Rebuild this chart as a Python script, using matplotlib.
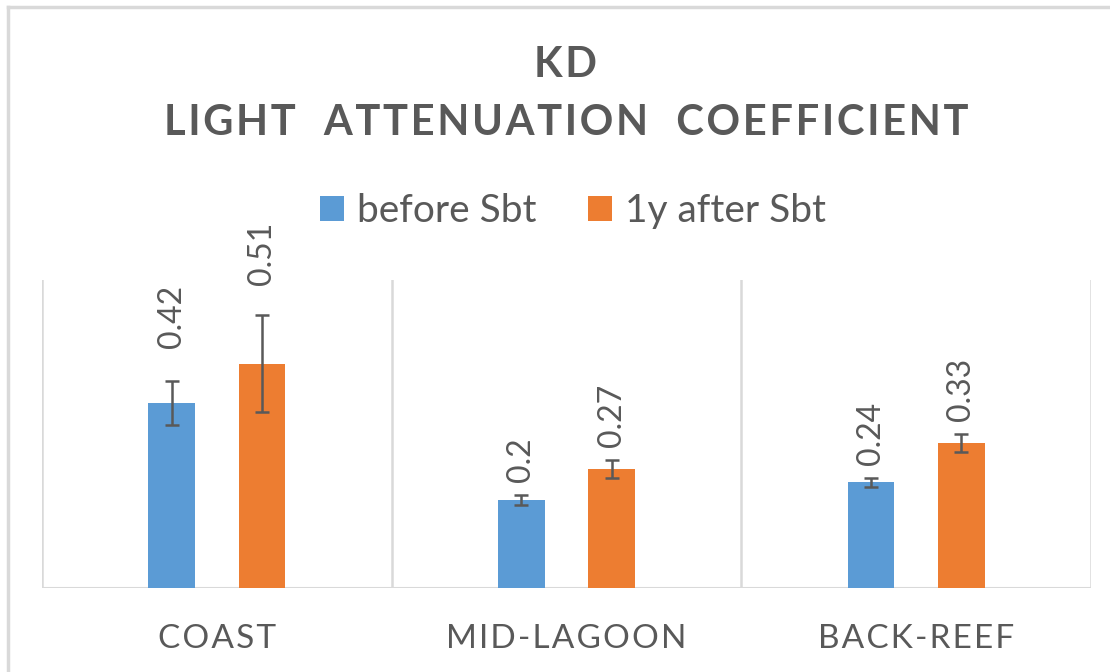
import numpy as np
import matplotlib
matplotlib.use("Agg")
from matplotlib import pyplot as plt
from matplotlib.patches import Patch
from matplotlib.lines import Line2D

# data
sites = ["COAST", "MID-LAGOON", "BACK-REEF"]
series_names = ["before Sbt", "1y after Sbt"]
before = [0.42, 0.20, 0.24]
after = [0.51, 0.27, 0.33]
before_err = [0.05, 0.011, 0.01]
after_err = [0.11, 0.02, 0.02]

BLUE = "#5B9BD5"
ORANGE = "#ED7D31"
TXT = "#595959"
GRID = "#D9D9D9"
FONT = ["Lato", "DejaVu Sans"]

# gap (pt) between error bar top and the value label, per site
label_pad = [[24, 22], [9.5, 9.5], [9.5, 9.5]]


def spaced(s, sep="\u200a"):
    return sep.join(s)


fig = plt.figure(figsize=(11.1, 6.72), dpi=100)
ax = fig.add_axes([42 / 1110, 1 - 588 / 672, 1049 / 1110, 308 / 672])

x = np.arange(len(sites))
off = 0.129
w = 0.134
for vals, errs, col, sign, k in [(before, before_err, BLUE, -1, 0), (after, after_err, ORANGE, 1, 1)]:
    xs = x + sign * off
    ax.bar(xs, vals, width=w, color=col, zorder=2)
    ax.errorbar(xs, vals, yerr=errs, fmt="none", ecolor="#595959", elinewidth=1.8,
                capsize=5, capthick=1.8, zorder=3)
    for i, (xi, v, e) in enumerate(zip(xs, vals, errs)):
        ax.annotate(f"{v:g}", (xi, v + e), xytext=(0, label_pad[i][k]), textcoords="offset points",
                    rotation=90, ha="center", va="bottom", fontsize=23, color=TXT, family=FONT)

ax.set_xlim(-0.5, 2.5)
ax.set_ylim(0, 0.7)
for xv in [-0.5, 0.5, 1.5, 2.5]:
    ax.axvline(xv, color=GRID, lw=1.8, zorder=1)
ax.axhline(0, color=GRID, lw=2.2, zorder=1)
for s in ax.spines.values():
    s.set_visible(False)
ax.set_yticks([])
ax.set_xticks(x)
ax.set_xticklabels([spaced(s) for s in sites], family=FONT, fontsize=24, color=TXT)
ax.tick_params(axis="x", length=0, pad=26)

# title
fig.text(566 / 1110, 1 - 65 / 672, spaced("KD"), ha="center", va="center",
         fontsize=30, fontweight="bold", color=TXT, family=FONT)
fig.text(566 / 1110, 1 - 123 / 672, spaced("LIGHT  ATTENUATION  COEFFICIENT"), ha="center", va="center",
         fontsize=30, fontweight="bold", color=TXT, family=FONT)

handles = [Patch(facecolor=BLUE), Patch(facecolor=ORANGE)]
leg = fig.legend(handles, series_names, loc="center", bbox_to_anchor=(573 / 1110, 1 - 211 / 672),
                 ncol=2, frameon=False, prop={"family": FONT, "size": 28},
                 handlelength=0.62, handleheight=0.62, handletextpad=0.35, columnspacing=1.3)
for t in leg.get_texts():
    t.set_color(TXT)

# light border of the chart area
fig.add_artist(Line2D([8 / 1110, 8 / 1110], [0, 1 - 7 / 672], transform=fig.transFigure, color=GRID, lw=2.5))
fig.add_artist(Line2D([8 / 1110, 1], [1 - 7 / 672, 1 - 7 / 672], transform=fig.transFigure, color=GRID, lw=2.5))

fig.savefig("out.png", dpi=100)
